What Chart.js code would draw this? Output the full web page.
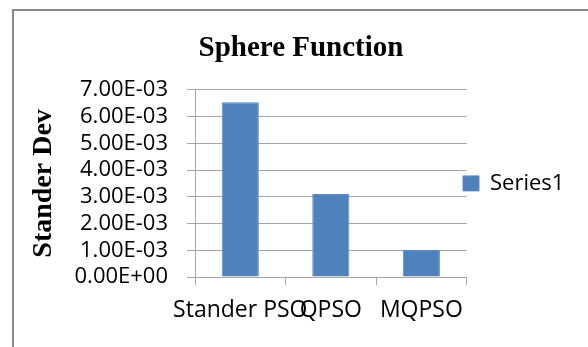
<!DOCTYPE html>
<html>
<head>
<meta charset="utf-8">
<script src="https://cdn.jsdelivr.net/npm/chart.js@4.4.1/dist/chart.umd.min.js"></script>
<style>
  html, body { margin: 0; padding: 0; background: #ffffff; }
  #wrap { position: relative; width: 588px; height: 347px; overflow: hidden; }
  #frame { position: absolute; left: 12px; top: 9px; width: 600px; height: 400px;
           border-left: 2px solid #8a8a8a; border-top: 2px solid #8a8a8a; box-sizing: border-box; }
  canvas { position: absolute; left: 0; top: 0; }
</style>
</head>
<body>
<div id="wrap">
  <div id="frame"></div>
  <canvas id="c" width="588" height="347"></canvas>
</div>
<script>
const categories = ["Stander PSO", "QPSO", "MQPSO"];
const seriesName = "Series1";
const seriesValues = [0.00653, 0.00310, 0.00101];
const yTickValues = [0, 0.001, 0.002, 0.003, 0.004, 0.005, 0.006, 0.007];
const chartTitle = "Sphere Function";
const yAxisTitle = "Stander Dev";

const GRID = "#a6a6a6";
const SANS = "'Open Sans', 'Liberation Sans', sans-serif";
const SERIF = "'Liberation Serif', 'DejaVu Serif', serif";

const legendShift = {
  id: "legendShift",
  afterLayout(chart) {
    const lg = chart.legend;
    if (!lg) return;
    const dx = lg.left - 453;
    lg.left -= dx;
    lg.right -= dx;
  }
};

new Chart(document.getElementById("c"), {
  type: "bar",
  data: {
    labels: categories,
    datasets: [{
      label: seriesName,
      data: seriesValues,
      backgroundColor: "#4f81bd",
      borderColor: "#5b8cc6",
      borderWidth: 1,
      barPercentage: 0.41,
      categoryPercentage: 1.0
    }]
  },
  options: {
    responsive: false,
    animation: false,
    devicePixelRatio: 1,
    layout: { padding: { left: 14, right: 0, top: 0, bottom: 0 } },
    plugins: {
      title: {
        display: true,
        text: chartTitle,
        color: "#000000",
        font: { family: SERIF, size: 29, weight: "bold" },
        padding: { top: 31, bottom: 24 }
      },
      legend: {
        display: true,
        position: "right",
        fullSize: false,
        align: "center",
        labels: {
          color: "#000000",
          font: { family: SANS, size: 22 },
          boxWidth: 16,
          boxHeight: 15,
          padding: 10
        }
      },
      tooltip: { enabled: false }
    },
    scales: {
      x: {
        grid: {
          display: true,
          drawOnChartArea: false,
          drawTicks: true,
          tickLength: 8,
          color: GRID,
          offset: true
        },
        border: { display: true, color: GRID, width: 1 },
        ticks: {
          color: "#000000",
          font: { family: SANS, size: 23 },
          padding: 12,
          maxRotation: 0,
          autoSkip: false
        },
        afterFit(scale) { scale.height = 70; }
      },
      y: {
        min: 0,
        max: 0.007,
        afterBuildTicks(scale) {
          scale.ticks = yTickValues.map(v => ({ value: v }));
        },
        grid: {
          display: true,
          color: GRID,
          tickLength: 8,
          drawTicks: true
        },
        border: { display: true, color: GRID, width: 1 },
        ticks: {
          color: "#000000",
          font: { family: SANS, size: 22 },
          padding: 19,
          autoSkip: false,
          callback(v) {
            const s = Number(v).toExponential(2).toUpperCase();
            return s.replace(/E([+-])(\d)$/, "E$10$2");
          }
        },
        title: {
          display: true,
          text: yAxisTitle,
          color: "#000000",
          font: { family: SERIF, size: 28, weight: "bold" },
          padding: { top: 13, bottom: 4 }
        },
        afterFit(scale) { scale.width = 181; }
      }
    }
  },
  plugins: [legendShift]
});
</script>
</body>
</html>
